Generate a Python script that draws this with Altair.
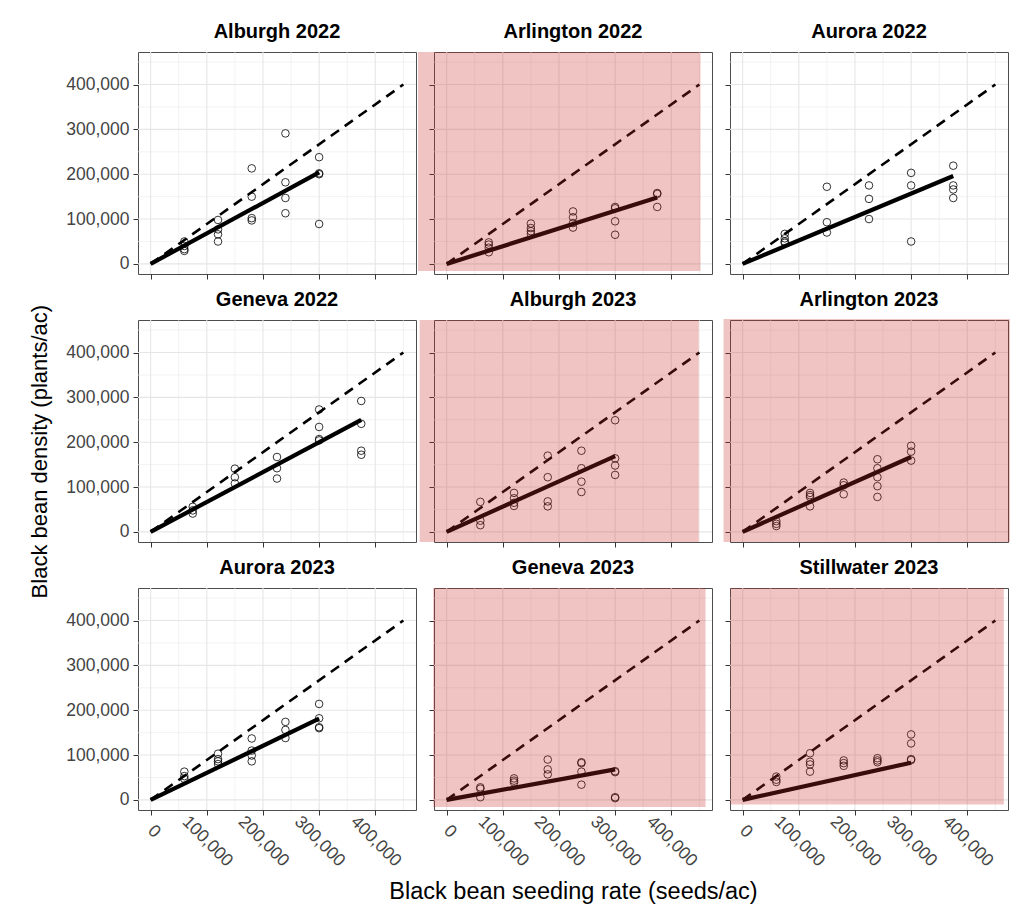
import altair as alt
import pandas as pd

FONT = "Liberation Sans"

panel_names = ["Alburgh 2022", "Arlington 2022", "Aurora 2022",
               "Geneva 2022", "Alburgh 2023", "Arlington 2023",
               "Aurora 2023", "Geneva 2023", "Stillwater 2023"]

# Seeding rate (seeds/ac) and observed stand (plants/ac) for each plot
alburgh22_rate = [60000, 60000, 60000, 60000, 120000, 120000, 120000, 120000,
                  180000, 180000, 180000, 180000, 240000, 240000, 240000, 240000,
                  300000, 300000, 300000, 300000]
alburgh22_dens = [50000, 40000, 33000, 29000, 98000, 77000, 66000, 50000,
                  213000, 150000, 102000, 97000, 291000, 182000, 147000, 113000,
                  238000, 202000, 200000, 89000]

arlington22_rate = [75000, 75000, 75000, 75000, 150000, 150000, 150000, 150000,
                    225000, 225000, 225000, 225000, 300000, 300000, 300000, 300000,
                    375000, 375000, 375000]
arlington22_dens = [48000, 43000, 36000, 26000, 90000, 80000, 73000, 67000,
                    117000, 104000, 91000, 81000, 127000, 124000, 95000, 65000,
                    158000, 156000, 127000]

aurora22_rate = [75000, 75000, 75000, 75000, 150000, 150000, 150000,
                 225000, 225000, 225000, 300000, 300000, 300000,
                 375000, 375000, 375000, 375000]
aurora22_dens = [67000, 57000, 50000, 47000, 172000, 93000, 70000,
                 175000, 145000, 100000, 203000, 175000, 50000,
                 219000, 175000, 166000, 147000]

geneva22_rate = [75000, 75000, 75000, 150000, 150000, 150000,
                 225000, 225000, 225000, 300000, 300000, 300000, 300000,
                 375000, 375000, 375000, 375000]
geneva22_dens = [56000, 48000, 41000, 141000, 122000, 108000,
                 167000, 142000, 119000, 273000, 234000, 207000, 204000,
                 292000, 241000, 181000, 172000]

alburgh23_rate = [60000, 60000, 60000, 120000, 120000, 120000, 120000,
                  180000, 180000, 180000, 180000, 240000, 240000, 240000, 240000,
                  300000, 300000, 300000, 300000]
alburgh23_dens = [67000, 25000, 15000, 87000, 75000, 65000, 58000,
                  170000, 122000, 68000, 57000, 181000, 142000, 112000, 89000,
                  249000, 164000, 148000, 127000]

arlington23_rate = [60000, 60000, 60000, 120000, 120000, 120000, 120000,
                    180000, 180000, 180000, 240000, 240000, 240000, 240000, 240000,
                    300000, 300000, 300000]
arlington23_dens = [24000, 18000, 13000, 87000, 82000, 78000, 57000,
                    110000, 104000, 84000, 162000, 142000, 122000, 102000, 78000,
                    192000, 179000, 159000]

aurora23_rate = [60000, 60000, 60000, 120000, 120000, 120000, 120000,
                 180000, 180000, 180000, 180000, 240000, 240000, 240000,
                 300000, 300000, 300000, 300000]
aurora23_dens = [63000, 53000, 47000, 103000, 91000, 86000, 80000,
                 137000, 110000, 99000, 86000, 174000, 156000, 138000,
                 214000, 182000, 162000, 160000]

geneva23_rate = [60000, 60000, 60000, 120000, 120000, 120000,
                 180000, 180000, 180000, 240000, 240000, 240000, 240000,
                 300000, 300000, 300000, 300000]
geneva23_dens = [28000, 25000, 6000, 48000, 43000, 39000,
                 90000, 68000, 57000, 84000, 82000, 63000, 34000,
                 64000, 62000, 6000, 4000]

stillwater23_rate = [60000, 60000, 60000, 120000, 120000, 120000, 120000,
                     180000, 180000, 180000, 240000, 240000, 240000,
                     300000, 300000, 300000, 300000]
stillwater23_dens = [52000, 45000, 40000, 104000, 85000, 79000, 63000,
                     88000, 82000, 76000, 93000, 88000, 84000,
                     146000, 126000, 91000, 89000]

# Fitted stand (through the origin): end point of each fit line
fit_end_rate = [300000, 375000, 375000, 375000, 300000, 300000, 300000, 300000, 300000]
fit_end_dens = [204000, 148000, 196000, 250000, 169000, 167000, 181000, 68000, 83000]

# Reference line end points
ref_line_rate = [0, 450000]
ref_line_dens = [0, 400000]

# Highlighted site-years: x0, x1, y0, y1 of the shaded box
shade_boxes = {
    "Arlington 2022": [-51000, 452000, -16000, 472500],
    "Alburgh 2023": [-48000, 449000, -22500, 472500],
    "Arlington 2023": [-34000, 476000, -22500, 475000],
    "Geneva 2023": [-24000, 461000, -16000, 472500],
    "Stillwater 2023": [-22000, 465000, -10000, 472500],
}

major_breaks = [0, 100000, 200000, 300000, 400000]
minor_breaks = [50000, 150000, 250000, 350000, 450000]

observed = {
    "Alburgh 2022": (alburgh22_rate, alburgh22_dens),
    "Arlington 2022": (arlington22_rate, arlington22_dens),
    "Aurora 2022": (aurora22_rate, aurora22_dens),
    "Geneva 2022": (geneva22_rate, geneva22_dens),
    "Alburgh 2023": (alburgh23_rate, alburgh23_dens),
    "Arlington 2023": (arlington23_rate, arlington23_dens),
    "Aurora 2023": (aurora23_rate, aurora23_dens),
    "Geneva 2023": (geneva23_rate, geneva23_dens),
    "Stillwater 2023": (stillwater23_rate, stillwater23_dens),
}

DOMAIN = [-22500, 472500]
PW, PH = 278, 222
TICK_FMT = ",.0f"


def make_panel(i, name):
    col, row = i % 3, i // 3
    xs = alt.Scale(domain=DOMAIN, nice=False, zero=False)
    ys = alt.Scale(domain=DOMAIN, nice=False, zero=False)
    bottom = row == 2
    xax = alt.Axis(values=major_breaks, format=TICK_FMT, grid=False, domain=False,
                   ticks=True, tickSize=5, tickColor="#333333", tickWidth=1,
                   labels=bottom, labelAngle=45,
                   labelAlign={"condition": {"test": "datum.value === 0", "value": "right"},
                               "value": "center"},
                   labelBaseline={"condition": {"test": "datum.value === 0", "value": "bottom"},
                                  "value": "middle"},
                   labelPadding=26, labelFontSize=17.5,
                   labelColor="#444444", labelFont=FONT, labelOverlap=False,
                   labelBound=False, labelFlush=False,
                   title="Black bean seeding rate (seeds/ac)" if (bottom and col == 1) else None,
                   titleFontSize=23.5, titleFont=FONT, titleFontWeight="normal",
                   titleColor="black", titlePadding=10)
    yax = alt.Axis(values=major_breaks, format=TICK_FMT, grid=False, domain=False,
                   ticks=True, tickSize=5, tickColor="#333333", tickWidth=1,
                   labels=(col == 0), labelFontSize=17.5, labelColor="#444444",
                   labelFont=FONT, labelPadding=4, title=None)

    minor_df = pd.DataFrame({"v": minor_breaks})
    major_df = pd.DataFrame({"v": major_breaks})
    gx_minor = alt.Chart(minor_df).mark_rule(color="#EBEBEB", strokeWidth=0.6).encode(
        x=alt.X("v:Q", scale=xs, axis=xax))
    gx_major = alt.Chart(major_df).mark_rule(color="#E6E6E6", strokeWidth=1.1).encode(
        x=alt.X("v:Q", scale=xs, axis=xax))
    gy_minor = alt.Chart(minor_df).mark_rule(color="#EBEBEB", strokeWidth=0.6).encode(
        y=alt.Y("v:Q", scale=ys, axis=yax))
    gy_major = alt.Chart(major_df).mark_rule(color="#E6E6E6", strokeWidth=1.1).encode(
        y=alt.Y("v:Q", scale=ys, axis=yax))

    ref_df = pd.DataFrame({"rate": ref_line_rate, "dens": ref_line_dens})
    ref = alt.Chart(ref_df).mark_line(color="black", strokeWidth=2.6,
                                      strokeDash=[10, 7]).encode(
        x=alt.X("rate:Q", scale=xs, axis=xax), y=alt.Y("dens:Q", scale=ys, axis=yax))

    fit_df = pd.DataFrame({"rate": [0, fit_end_rate[i]], "dens": [0, fit_end_dens[i]]})
    fit = alt.Chart(fit_df).mark_line(color="black", strokeWidth=4.2).encode(
        x=alt.X("rate:Q", scale=xs, axis=xax), y=alt.Y("dens:Q", scale=ys, axis=yax))

    r, d = observed[name]
    pts_df = pd.DataFrame({"rate": r, "dens": d})
    pts = alt.Chart(pts_df).mark_point(shape="circle", filled=False, color="black",
                                       strokeWidth=0.8, size=58, opacity=1).encode(
        x=alt.X("rate:Q", scale=xs, axis=xax), y=alt.Y("dens:Q", scale=ys, axis=yax))

    layers = [gx_minor, gy_minor, gx_major, gy_major, ref, fit, pts]
    if name in shade_boxes:
        x0, x1, y0, y1 = shade_boxes[name]
        box_df = pd.DataFrame({"x0": [x0], "x1": [x1], "y0": [y0], "y1": [y1]})
        box = alt.Chart(box_df).mark_rect(color="#CC2A2A", opacity=0.28).encode(
            x=alt.X("x0:Q", scale=xs, axis=xax), x2="x1:Q",
            y=alt.Y("y0:Q", scale=ys, axis=yax), y2="y1:Q")
        layers.append(box)

    return alt.layer(*layers).properties(
        width=PW, height=PH,
        title=alt.TitleParams(name, fontSize=20, fontWeight="bold", font=FONT,
                              color="black", offset=9, anchor="middle"))


panels = [make_panel(i, n) for i, n in enumerate(panel_names)]

chart = alt.ConcatChart(
    concat=panels, columns=3, bounds="flush",
    spacing=alt.RowColnumber(row=46, column=18),
    title=alt.TitleParams("Black bean density (plants/ac)", orient="left",
                          anchor="middle", frame="bounds", fontSize=22,
                          fontWeight="normal", font=FONT, color="black",
                          offset=13, dx=11),
).configure(
    font=FONT, background="white",
    padding={"left": 29, "top": 21, "right": 5, "bottom": 5},
).configure_view(stroke="#4D4D4D", strokeWidth=1)

chart.save("out.html", embed_options={"renderer": "svg", "actions": False})
